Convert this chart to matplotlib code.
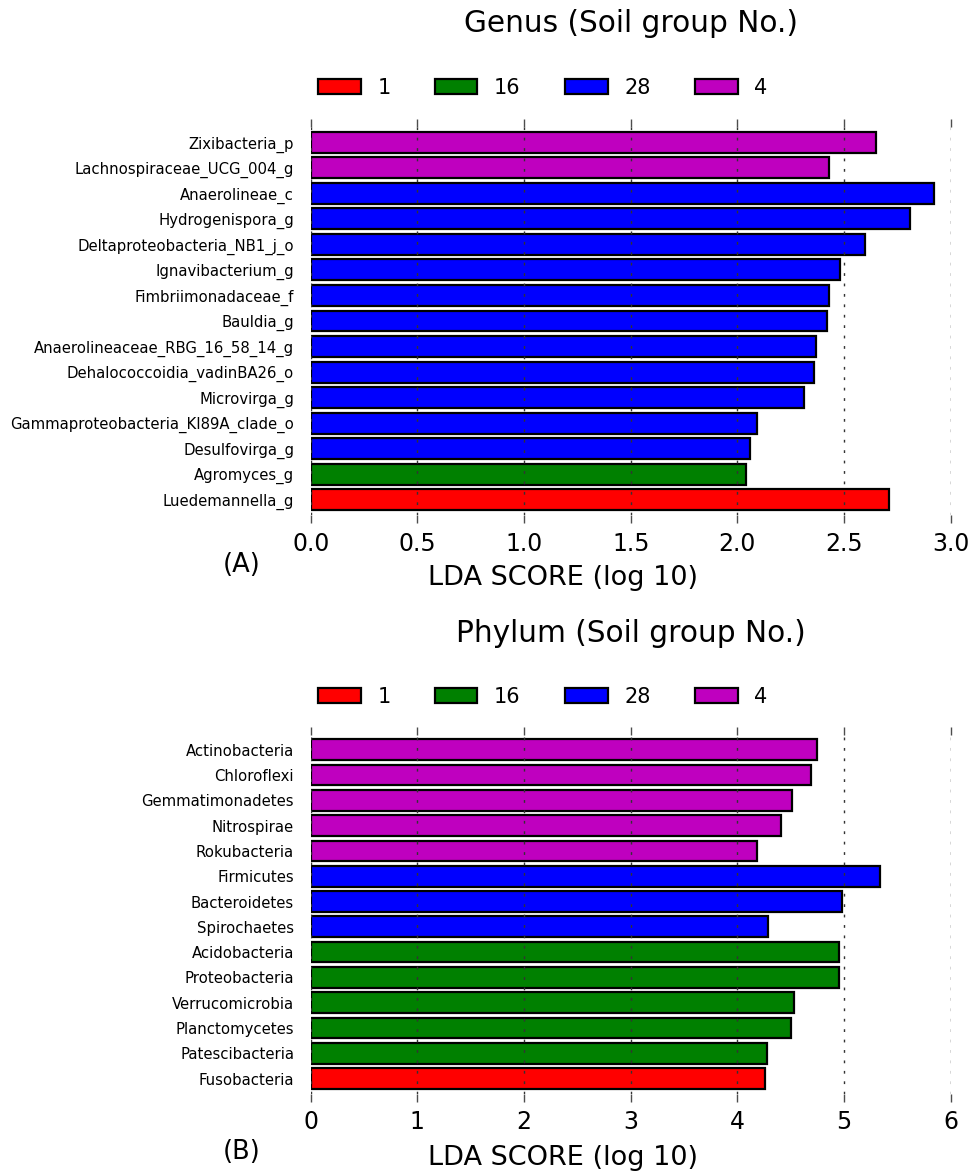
import matplotlib
matplotlib.use('Agg')
import matplotlib.pyplot as plt
from matplotlib.patches import Patch

groups = ['1', '16', '28', '4']
group_colors = {'1': '#FF0000', '16': '#008000', '28': '#0000FF', '4': '#BF00BF'}

# genus level, listed top to bottom
genus_names = ['Zixibacteria_p', 'Lachnospiraceae_UCG_004_g', 'Anaerolineae_c',
               'Hydrogenispora_g', 'Deltaproteobacteria_NB1_j_o', 'Ignavibacterium_g',
               'Fimbriimonadaceae_f', 'Bauldia_g', 'Anaerolineaceae_RBG_16_58_14_g',
               'Dehalococcoidia_vadinBA26_o', 'Microvirga_g',
               'Gammaproteobacteria_KI89A_clade_o', 'Desulfovirga_g', 'Agromyces_g',
               'Luedemannella_g']
genus_scores = [2.65, 2.43, 2.92, 2.81, 2.60, 2.48, 2.43, 2.42, 2.37, 2.36, 2.31,
                2.09, 2.06, 2.04, 2.71]
genus_groups = ['4', '4', '28', '28', '28', '28', '28', '28', '28', '28', '28',
                '28', '28', '16', '1']

# phylum level, listed top to bottom
phylum_names = ['Actinobacteria', 'Chloroflexi', 'Gemmatimonadetes', 'Nitrospirae',
                'Rokubacteria', 'Firmicutes', 'Bacteroidetes', 'Spirochaetes',
                'Acidobacteria', 'Proteobacteria', 'Verrucomicrobia', 'Planctomycetes',
                'Patescibacteria', 'Fusobacteria']
phylum_scores = [4.75, 4.69, 4.51, 4.41, 4.18, 5.34, 4.98, 4.29, 4.95, 4.95, 4.53,
                 4.50, 4.28, 4.26]
phylum_groups = ['4', '4', '4', '4', '4', '28', '28', '28', '16', '16', '16', '16',
                 '16', '1']

genus_ticks = [0.0, 0.5, 1.0, 1.5, 2.0, 2.5, 3.0]
genus_ticklabels = ['0.0', '0.5', '1.0', '1.5', '2.0', '2.5', '3.0']
phylum_ticks = [0, 1, 2, 3, 4, 5, 6]
phylum_ticklabels = ['0', '1', '2', '3', '4', '5', '6']

W, H = 975, 1171
fig = plt.figure(figsize=(W / 100, H / 100), dpi=100)


def px(x, y):
    # pixel position (from top-left) -> figure fraction
    return x / W, 1 - y / H


def drawPanel(rect, names, scores, grp, ticks, ticklabels, title, title_y, legend_y,
              letter, letter_y, xlabel_y):
    ax = fig.add_axes(rect)
    n = len(names)
    ypos = list(range(n))[::-1]
    colors = [group_colors[g] for g in grp]
    ax.barh(ypos, scores, height=0.82, color=colors, edgecolor='black',
            linewidth=1.6, zorder=2)
    ax.set_ylim(-0.6, n - 1 + 0.6)
    ax.set_xlim(ticks[0], ticks[-1])
    ax.set_yticks(ypos)
    ax.set_yticklabels(names, fontsize=10.7)
    ax.tick_params(axis='y', length=0, pad=12)
    ax.set_xticks(ticks)
    ax.set_xticklabels(ticklabels, fontsize=17)
    ax.tick_params(axis='x', top=True, bottom=True, direction='out', length=6,
                   width=1, color='0.3', pad=6)
    for s in ax.spines.values():
        s.set_visible(False)
    for t in ticks:
        ax.axvline(t, color='0.2', linestyle=(0, (2, 5.5)), linewidth=1, zorder=3)

    cx = rect[0] + rect[2] / 2
    fig.text(cx, 1 - title_y / H, title, ha='center', va='center', fontsize=21.3)
    handles = [Patch(facecolor=group_colors[g], edgecolor='black', linewidth=1.6,
                     label=g) for g in groups]
    fig.legend(handles=handles, loc='center left', ncol=4, frameon=False,
               bbox_to_anchor=px(318, legend_y), borderpad=0, borderaxespad=0,
               fontsize=15, handlelength=2.05, handleheight=0.72,
               handletextpad=0.8, columnspacing=2.12)
    fig.text(*px(242, letter_y), letter, ha='center', va='center', fontsize=18.5)
    fig.text(*px(563, xlabel_y), 'LDA SCORE (log 10)', ha='center', va='center',
             fontsize=19.5)
    return ax


rectA = [310.7 / W, 1 - 515 / H, 640 / W, 388 / H]
rectB = [310.7 / W, 1 - 1093.7 / H, 640 / W, 359.1 / H]

drawPanel(rectA, genus_names, genus_scores, genus_groups, genus_ticks,
          genus_ticklabels, 'Genus (Soil group No.)', 24, 88, '(A)', 565, 578)
drawPanel(rectB, phylum_names, phylum_scores, phylum_groups, phylum_ticks,
          phylum_ticklabels, 'Phylum (Soil group No.)', 634, 697, '(B)', 1152, 1158)

plt.savefig('out.png', dpi=100)
